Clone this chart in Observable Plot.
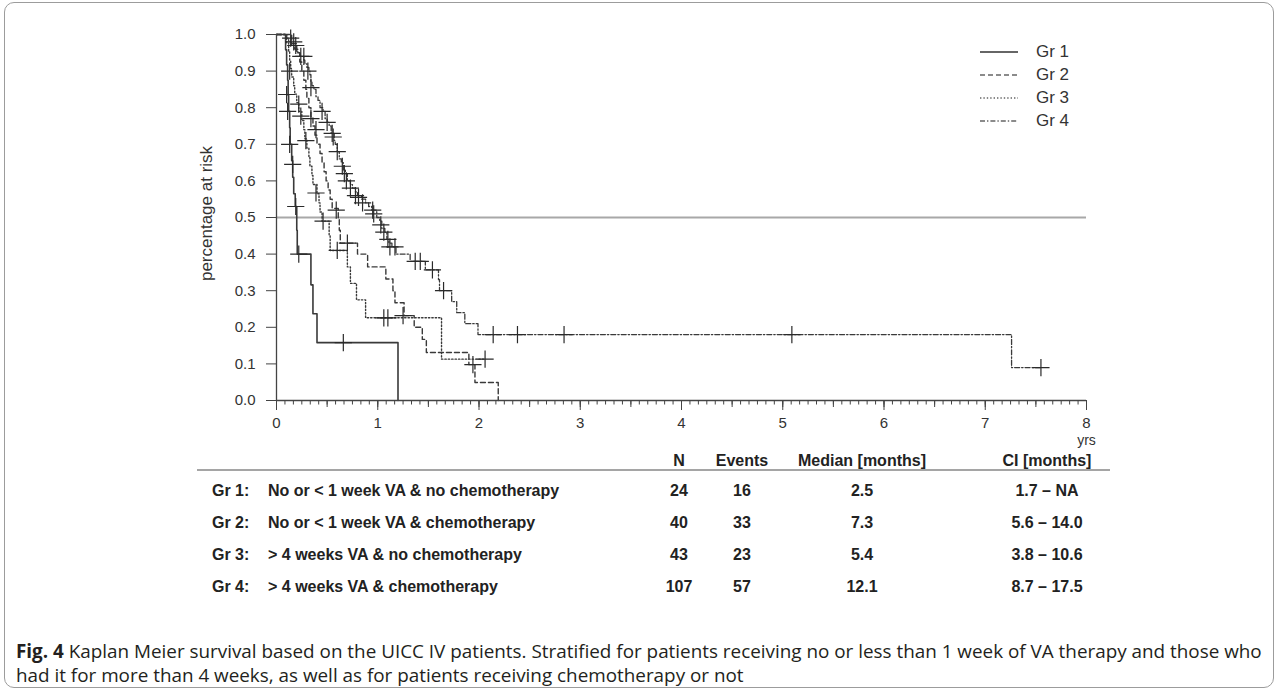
<!DOCTYPE html>
<html><head><meta charset="utf-8">
<script src="https://cdn.jsdelivr.net/npm/d3@7"></script>
<script src="https://cdn.jsdelivr.net/npm/@observablehq/plot@0.6"></script>
<style>
body{margin:0;background:#fff;font-family:"Liberation Sans",Arial,sans-serif;color:#222;}
#wrap{position:relative;width:1281px;height:695px;overflow:hidden;background:#fff;}
#frame{position:absolute;left:4px;top:2px;width:1270px;height:686px;border:1.5px solid #9c9c9c;border-radius:10px;box-sizing:border-box;}
#chart{position:absolute;left:0;top:0;}
.leg{position:absolute;font-size:17px;color:#333;line-height:18px;height:18px;width:120px;white-space:nowrap;}
.cell{position:absolute;font-weight:bold;font-size:16px;white-space:nowrap;color:#222;transform:translate(-50%,-50%);}
.cellL{position:absolute;font-weight:bold;font-size:16px;white-space:nowrap;color:#222;transform:translate(0,-50%);}
#rule{position:absolute;left:197px;width:913px;top:469px;height:0;border-top:2px solid #a5a5a5;}
.cap{position:absolute;left:16px;white-space:nowrap;font-family:"Open Sans",sans-serif;color:#231f20;line-height:1;}
</style></head>
<body>
<div id="wrap">
  <div id="frame"></div>
  <div id="chart"></div>
</div>
<script>
// ---------- data ----------
const groups = ["Gr 1", "Gr 2", "Gr 3", "Gr 4"];

const gr1Time = [0, 0.09, 0.10, 0.11, 0.115, 0.12, 0.13, 0.135, 0.15, 0.16, 0.17, 0.185, 0.20, 0.205, 0.34, 0.36, 0.40, 1.20];
const gr1Surv = [1.0, 0.958, 0.917, 0.875, 0.833, 0.79, 0.745, 0.70, 0.655, 0.61, 0.565, 0.53, 0.465, 0.40, 0.316, 0.237, 0.158, 0];
const gr1CensT = [0.10, 0.11, 0.13, 0.16, 0.19, 0.22, 0.66];
const gr1CensS = [0.836, 0.79, 0.70, 0.645, 0.53, 0.40, 0.158];

const gr2Time = [0, 0.15, 0.20, 0.23, 0.25, 0.27, 0.29, 0.30, 0.32, 0.34, 0.36, 0.38, 0.40, 0.43, 0.45, 0.47, 0.49, 0.51, 0.53, 0.55, 0.61, 0.62, 0.63, 0.80, 0.90, 1.08, 1.15, 1.17, 1.26, 1.36, 1.44, 1.48, 1.90, 1.96, 2.19];
const gr2Surv = [1.0, 0.975, 0.95, 0.925, 0.90, 0.875, 0.85, 0.825, 0.80, 0.775, 0.75, 0.725, 0.70, 0.675, 0.65, 0.625, 0.60, 0.575, 0.55, 0.525, 0.497, 0.465, 0.43, 0.40, 0.365, 0.332, 0.30, 0.267, 0.232, 0.20, 0.167, 0.131, 0.098, 0.049, 0];
const gr2CensT = [0.34, 0.39, 0.59, 0.70, 1.25, 1.94];
const gr2CensS = [0.77, 0.74, 0.52, 0.43, 0.232, 0.098];

const gr3Time = [0, 0.10, 0.12, 0.13, 0.14, 0.15, 0.17, 0.18, 0.20, 0.22, 0.25, 0.27, 0.28, 0.30, 0.32, 0.33, 0.35, 0.36, 0.40, 0.42, 0.43, 0.45, 0.52, 0.53, 0.70, 0.73, 0.79, 0.88, 1.63, 2.06];
const gr3Surv = [1.0, 0.977, 0.953, 0.93, 0.907, 0.884, 0.86, 0.837, 0.814, 0.79, 0.765, 0.74, 0.715, 0.69, 0.665, 0.64, 0.615, 0.59, 0.565, 0.54, 0.515, 0.49, 0.45, 0.41, 0.365, 0.32, 0.275, 0.226, 0.113, 0.113];
const gr3CensT = [0.13, 0.22, 0.24, 0.29, 0.39, 0.46, 0.60, 1.06, 1.10, 2.06];
const gr3CensS = [0.90, 0.81, 0.777, 0.71, 0.567, 0.49, 0.41, 0.226, 0.226, 0.113];

const gr4Time = [0, 0.10, 0.12, 0.15, 0.18, 0.21, 0.23, 0.27, 0.28, 0.30, 0.32, 0.33, 0.34, 0.35, 0.37, 0.39, 0.41, 0.43, 0.46, 0.48, 0.50, 0.52, 0.54, 0.57, 0.58, 0.60, 0.62, 0.64, 0.66, 0.68, 0.70, 0.73, 0.75, 0.78, 0.80, 0.84, 0.88, 0.91, 0.94, 0.99, 1.02, 1.04, 1.07, 1.09, 1.11, 1.14, 1.18, 1.32, 1.47, 1.60, 1.61, 1.73, 1.78, 1.86, 1.99, 7.26, 7.55];
const gr4Surv = [1.0, 0.99, 0.98, 0.97, 0.96, 0.95, 0.94, 0.93, 0.92, 0.91, 0.90, 0.89, 0.87, 0.86, 0.85, 0.83, 0.82, 0.80, 0.79, 0.77, 0.76, 0.75, 0.73, 0.71, 0.70, 0.68, 0.66, 0.65, 0.63, 0.62, 0.60, 0.59, 0.58, 0.57, 0.56, 0.55, 0.54, 0.53, 0.52, 0.50, 0.49, 0.47, 0.46, 0.44, 0.43, 0.42, 0.40, 0.38, 0.357, 0.33, 0.30, 0.27, 0.24, 0.21, 0.18, 0.09, 0.09];
const gr4CensT = [0.14, 0.17, 0.19, 0.24, 0.27, 0.31, 0.34, 0.45, 0.50, 0.55, 0.56, 0.60, 0.65, 0.67, 0.69, 0.73, 0.78, 0.81, 0.85, 0.95, 0.96, 1.03, 1.06, 1.10, 1.12, 1.17, 1.37, 1.42, 1.54, 1.65, 2.14, 2.38, 2.84, 5.09, 7.55];
const gr4CensS = [0.99, 0.98, 0.97, 0.94, 0.94, 0.90, 0.855, 0.79, 0.76, 0.73, 0.72, 0.68, 0.64, 0.62, 0.60, 0.58, 0.56, 0.555, 0.54, 0.52, 0.51, 0.48, 0.46, 0.44, 0.42, 0.42, 0.38, 0.38, 0.357, 0.30, 0.18, 0.18, 0.18, 0.18, 0.09];

const xTickLabels = [0, 1, 2, 3, 4, 5, 6, 7, 8];
const yTickLabels = [0.0, 0.1, 0.2, 0.3, 0.4, 0.5, 0.6, 0.7, 0.8, 0.9, 1.0];
const xUnit = "yrs";
const yTitle = "percentage at risk";
const referenceLevel = [0.5];

const tableHeader = ["N", "Events", "Median [months]", "CI [months]"];
const tableGroup = ["Gr 1:", "Gr 2:", "Gr 3:", "Gr 4:"];
const tableDesc = ["No or < 1 week VA & no chemotherapy", "No or < 1 week VA & chemotherapy", "> 4 weeks VA & no chemotherapy", "> 4 weeks VA & chemotherapy"];
const tableN = ["24", "40", "43", "107"];
const tableEvents = ["16", "33", "23", "57"];
const tableMedian = ["2.5", "7.3", "5.4", "12.1"];
const tableCI = ["1.7 \u2013 NA", "5.6 \u2013 14.0", "3.8 \u2013 10.6", "8.7 \u2013 17.5"];

const captionBold = "Fig. 4";
const captionLine1 = " Kaplan Meier survival based on the UICC IV patients. Stratified for patients receiving no or less than 1 week of VA therapy and those who";
const captionLine2 = "had it for more than 4 weeks, as well as for patients receiving chemotherapy or not";

// ---------- build ----------
const series = [
  {g: groups[0], t: gr1Time, s: gr1Surv, ct: gr1CensT, cs: gr1CensS, dash: null, w: 1.6},
  {g: groups[1], t: gr2Time, s: gr2Surv, ct: gr2CensT, cs: gr2CensS, dash: "5,3", w: 1.4},
  {g: groups[2], t: gr3Time, s: gr3Surv, ct: gr3CensT, cs: gr3CensS, dash: "1.4,2", w: 1.4},
  {g: groups[3], t: gr4Time, s: gr4Surv, ct: gr4CensT, cs: gr4CensS, dash: "5,2,1.4,2", w: 1.3}
];
const lineMarks = series.map(d => Plot.line(d.t.map((t, i) => ({t, s: d.s[i]})), {
  x: "t", y: "s", curve: "step-after", stroke: "#3a3a3a", strokeWidth: d.w,
  strokeDasharray: d.dash || undefined
}));
const censors = series.flatMap(d => d.ct.map((t, i) => ({g: d.g, t, s: d.cs[i]})));

const monthTicks = d3.range(0, 8 * 12 + 1).map(i => i / 12);
const halfTicks = d3.range(0, 17).map(i => i / 2);

const chart = Plot.plot({
  width: 1281, height: 460,
  marginLeft: 276, marginRight: 195, marginTop: 34, marginBottom: 60,
  style: {fontFamily: '"Liberation Sans", Arial, sans-serif', fontSize: "15px", color: "#333", background: "transparent"},
  x: {domain: [0, 8]},
  y: {domain: [0, 1]},
  marks: [
    Plot.ruleY(referenceLevel, {stroke: "#a8a8a8", strokeWidth: 2}),
    ...lineMarks,
    Plot.dot(censors, {x: "t", y: "s", symbol: "plus", r: 5.6, stroke: "#2a2a2a", fill: "none", strokeWidth: 1.2}),
    Plot.ruleY([0], {stroke: "#444", strokeWidth: 1.3}),
    Plot.ruleX([0], {stroke: "#444", strokeWidth: 1.3}),
    Plot.axisX(monthTicks, {tickSize: 4.5, tickFormat: () => "", label: null, stroke: "#444"}),
    Plot.axisX(halfTicks, {tickSize: 7, tickFormat: () => "", label: null, stroke: "#444"}),
    Plot.axisX(xTickLabels, {tickSize: 10, tickPadding: 7, tickFormat: d => String(d), label: null, stroke: "#444", fill: "#333"}),
    Plot.axisY(yTickLabels, {tickSize: 10, tickPadding: 11, tickFormat: d => d.toFixed(1), label: null, stroke: "#444", fill: "#333"}),
    Plot.text([xUnit], {frameAnchor: "bottom-right", dy: 44, textAnchor: "middle", fontSize: 14, fill: "#333"}),
    Plot.text([yTitle], {frameAnchor: "left", textAnchor: "middle", lineAnchor: "middle", dx: -70, dy: -4, rotate: -90, fontSize: 17, fill: "#333"})
  ]
});
document.getElementById("chart").appendChild(chart);

const wrap = document.getElementById("wrap");
// legend
const legY = [52, 75, 98, 121];
series.forEach((d, i) => {
  const row = document.createElement("div");
  row.className = "leg";
  row.style.left = "978px";
  row.style.top = (legY[i] - 9) + "px";
  row.innerHTML = `<svg width="42" height="18" style="position:absolute;left:0;top:0"><line x1="2" x2="40" y1="9" y2="9" stroke="${i === 0 ? '#333' : '#666'}" stroke-width="${i === 0 ? 1.6 : 1.3}" ${d.dash ? `stroke-dasharray="${d.dash}"` : ""}/></svg><span style="position:absolute;left:58px;top:0;">${d.g}</span>`;
  wrap.appendChild(row);
});

// table
const colX = [679, 742, 862, 1047];
const headY = 461;
const rowY = [491, 523, 555, 587];
function cell(text, x, y, cls) {
  const el = document.createElement("div");
  el.className = cls;
  el.style.left = x + "px";
  el.style.top = y + "px";
  el.textContent = text;
  wrap.appendChild(el);
}
tableHeader.forEach((h, j) => cell(h, colX[j], headY, "cell"));
const rule = document.createElement("div"); rule.id = "rule"; wrap.appendChild(rule);
tableGroup.forEach((g, i) => {
  cell(g, 212, rowY[i], "cellL");
  cell(tableDesc[i], 268, rowY[i], "cellL");
  cell(tableN[i], colX[0], rowY[i], "cell");
  cell(tableEvents[i], colX[1], rowY[i], "cell");
  cell(tableMedian[i], colX[2], rowY[i], "cell");
  cell(tableCI[i], colX[3], rowY[i], "cell");
});

// caption
const c1 = document.createElement("div");
c1.className = "cap";
c1.innerHTML = `<b>${captionBold}</b>${captionLine1}`;
const c2 = document.createElement("div");
c2.className = "cap";
c2.textContent = captionLine2;
wrap.appendChild(c1); wrap.appendChild(c2);
let fs = 15;
c1.style.fontSize = fs + "px";
const w = c1.getBoundingClientRect().width;
fs = fs * 1246 / w;
[c1, c2].forEach(c => c.style.fontSize = fs.toFixed(2) + "px");
c1.style.top = (652 - fs * 0.55) + "px";
c2.style.top = (676 - fs * 0.55) + "px";
</script>
</body></html>
